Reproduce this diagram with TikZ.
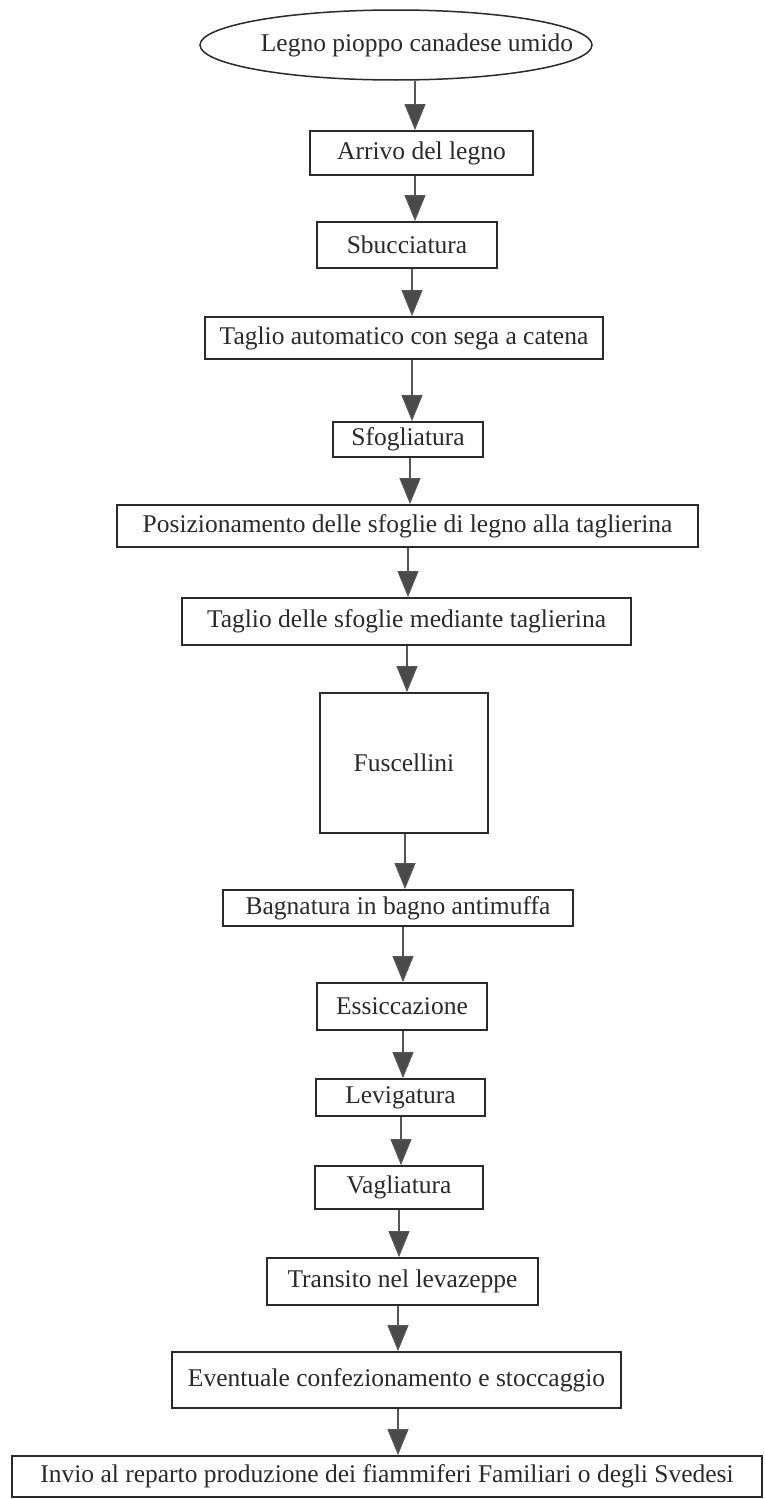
\documentclass[tikz,border=0pt]{standalone}
\usepackage{fontspec}
\setmainfont{Liberation Serif}
\usetikzlibrary{shapes.geometric,arrows.meta}
\definecolor{ink}{HTML}{2A2A2A}
\definecolor{stem}{HTML}{555555}
\definecolor{headfill}{HTML}{4A4A4A}
\tikzset{
  box/.style={draw=ink, line width=1.8pt, rectangle, inner sep=0pt, text=ink,
    font=\fontsize{25.5}{28}\selectfont},
  oval/.style={box, ellipse, line width=1.5pt},
  flow/.style={draw=stem, line width=1.2pt,
    -{Triangle[width=21pt,length=26pt,fill=headfill]}},
}
\begin{document}
\begin{tikzpicture}[x=1pt,y=-1pt]
\fill[white] (0,0) rectangle (765,1499);
\useasboundingbox (0,0) rectangle (765,1499);

\node[oval, minimum width=392pt, minimum height=70pt] (start) at (396,45)
  {\makebox[0pt][c]{\hspace*{42pt}Legno pioppo canadese umido}};
\node[box, minimum width=223pt, minimum height=44pt] (arr) at (421.5,153) {Arrivo del legno};
\node[box, minimum width=180pt, minimum height=46pt] (sbu) at (407,245) {Sbucciatura};
\node[box, minimum width=398pt, minimum height=42pt] (tag) at (404,338) {Taglio automatico con sega a catena};
\node[box, minimum width=150pt, minimum height=35pt] (sfo) at (408,439.5) {Sfogliatura};
\node[box, minimum width=581pt, minimum height=42pt] (pos) at (407.5,526) {Posizionamento delle sfoglie di legno alla taglierina};
\node[box, minimum width=449pt, minimum height=47pt] (tds) at (406.5,621.5) {Taglio delle sfoglie mediante taglierina};
\node[box, minimum width=168pt, minimum height=140pt] (fus) at (404,763) {Fuscellini};
\node[box, minimum width=350pt, minimum height=36pt] (bag) at (398,908) {Bagnatura in bagno antimuffa};
\node[box, minimum width=170pt, minimum height=47pt] (ess) at (402,1006.5) {Essiccazione};
\node[box, minimum width=169pt, minimum height=37pt] (lev) at (400.5,1097.5) {Levigatura};
\node[box, minimum width=168pt, minimum height=43pt] (vag) at (399,1187.5) {Vagliatura};
\node[box, minimum width=271pt, minimum height=47pt] (tra) at (402.5,1281.5) {Transito nel levazeppe};
\node[box, minimum width=449pt, minimum height=56pt] (eve) at (396.5,1380) {Eventuale confezionamento e stoccaggio};
\node[box, minimum width=750pt, minimum height=41pt] (inv) at (387,1476.5) {Invio al reparto produzione dei fiammiferi Familiari o degli Svedesi};

\coordinate (c1) at (415,0);
\coordinate (c2) at (415,0);
\coordinate (c3) at (412,0);
\coordinate (c4) at (412,0);
\coordinate (c5) at (410,0);
\coordinate (c6) at (408,0);
\coordinate (c7) at (407,0);
\coordinate (c8) at (405,0);
\coordinate (c9) at (403,0);
\coordinate (c10) at (403,0);
\coordinate (c11) at (401,0);
\coordinate (c12) at (399,0);
\coordinate (c13) at (398,0);
\coordinate (c14) at (398,0);

\draw[flow] (start.south -| c1) -- (arr.north -| c1);
\draw[flow] (arr.south -| c2) -- (sbu.north -| c2);
\draw[flow] (sbu.south -| c3) -- (tag.north -| c3);
\draw[flow] (tag.south -| c4) -- (sfo.north -| c4);
\draw[flow] (sfo.south -| c5) -- (pos.north -| c5);
\draw[flow] (pos.south -| c6) -- (tds.north -| c6);
\draw[flow] (tds.south -| c7) -- (fus.north -| c7);
\draw[flow] (fus.south -| c8) -- (bag.north -| c8);
\draw[flow] (bag.south -| c9) -- (ess.north -| c9);
\draw[flow] (ess.south -| c10) -- (lev.north -| c10);
\draw[flow] (lev.south -| c11) -- (vag.north -| c11);
\draw[flow] (vag.south -| c12) -- (tra.north -| c12);
\draw[flow] (tra.south -| c13) -- (eve.north -| c13);
\draw[flow] (eve.south -| c14) -- (inv.north -| c14);
\end{tikzpicture}
\end{document}
